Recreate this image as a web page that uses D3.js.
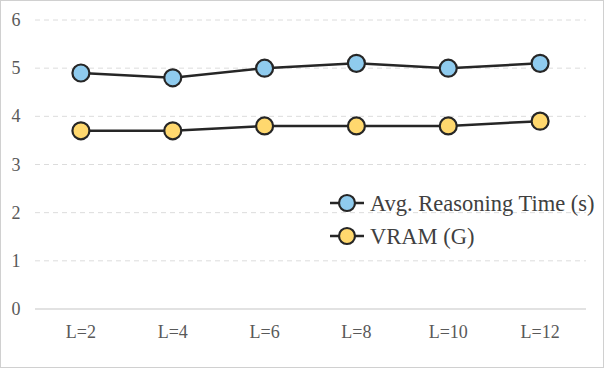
<!DOCTYPE html>
<html>
<head>
<meta charset="utf-8">
<script src="https://cdn.jsdelivr.net/npm/d3@7.9.0/dist/d3.min.js"></script>
<style>
  body { margin: 0; background: #fff; }
  svg text { font-family: "Liberation Serif", "Times New Roman", "DejaVu Serif", serif; }
</style>
</head>
<body>
<svg id="chart" width="604" height="368"></svg>
<script>
const categories = ['L=2', 'L=4', 'L=6', 'L=8', 'L=10', 'L=12'];
const timeValues = [4.9, 4.8, 5.0, 5.1, 5.0, 5.1];
const vramValues = [3.7, 3.7, 3.8, 3.8, 3.8, 3.9];
const yTicks = [0, 1, 2, 3, 4, 5, 6];
const seriesNames = ['Avg. Reasoning Time (s)', 'VRAM (G)'];
const seriesColors = ['#8fcbee', '#ffd86e'];

const svg = d3.select('#chart');
const W = 604, H = 368;

// outer frame
svg.append('rect')
   .attr('x', 0.5).attr('y', 0.5)
   .attr('width', W - 1).attr('height', H - 1)
   .attr('fill', '#fff').attr('stroke', '#d0d0d0');

const x = d3.scaleBand().domain(categories).range([35, 586]);
const y = d3.scaleLinear().domain([0, 6]).range([309, 20]);

// grid
svg.append('g').selectAll('line')
   .data(yTicks)
   .join('line')
   .attr('x1', 35).attr('x2', 586)
   .attr('y1', d => y(d)).attr('y2', d => y(d))
   .attr('stroke', d => d === 0 ? '#d9d9d9' : '#dcdcdc')
   .attr('stroke-width', d => d === 0 ? 1.5 : 1)
   .attr('stroke-dasharray', d => d === 0 ? null : '5,4');

// y labels
svg.append('g').selectAll('text')
   .data(yTicks)
   .join('text')
   .attr('x', 16).attr('y', d => y(d) + 6)
   .attr('text-anchor', 'middle')
   .attr('font-size', 18)
   .attr('fill', '#595959')
   .text(d => d);

// x labels
svg.append('g').selectAll('text')
   .data(categories)
   .join('text')
   .attr('x', d => x(d) + x.bandwidth() / 2)
   .attr('y', 338)
   .attr('text-anchor', 'middle')
   .attr('font-size', 18)
   .attr('fill', '#595959')
   .text(d => d);

const line = d3.line()
   .x((d, i) => x(categories[i]) + x.bandwidth() / 2)
   .y(d => y(d));

[timeValues, vramValues].forEach((vals, s) => {
  svg.append('path')
     .attr('d', line(vals))
     .attr('fill', 'none')
     .attr('stroke', '#262626')
     .attr('stroke-width', 2.5);
  svg.append('g').selectAll('circle')
     .data(vals)
     .join('circle')
     .attr('cx', (d, i) => x(categories[i]) + x.bandwidth() / 2)
     .attr('cy', d => y(d))
     .attr('r', 8.5)
     .attr('fill', seriesColors[s])
     .attr('stroke', '#262626')
     .attr('stroke-width', 2.2);
});

// legend
const legend = svg.append('g');
seriesNames.forEach((name, i) => {
  const ly = 203 + i * 33;
  legend.append('line')
     .attr('x1', 330).attr('x2', 364)
     .attr('y1', ly).attr('y2', ly)
     .attr('stroke', '#262626').attr('stroke-width', 2.5);
  legend.append('circle')
     .attr('cx', 347).attr('cy', ly).attr('r', 8)
     .attr('fill', seriesColors[i])
     .attr('stroke', '#262626').attr('stroke-width', 2.2);
  legend.append('text')
     .attr('x', 370).attr('y', ly + 8)
     .attr('font-size', 22.5)
     .attr('fill', '#404040')
     .text(name);
});
</script>
</body>
</html>
